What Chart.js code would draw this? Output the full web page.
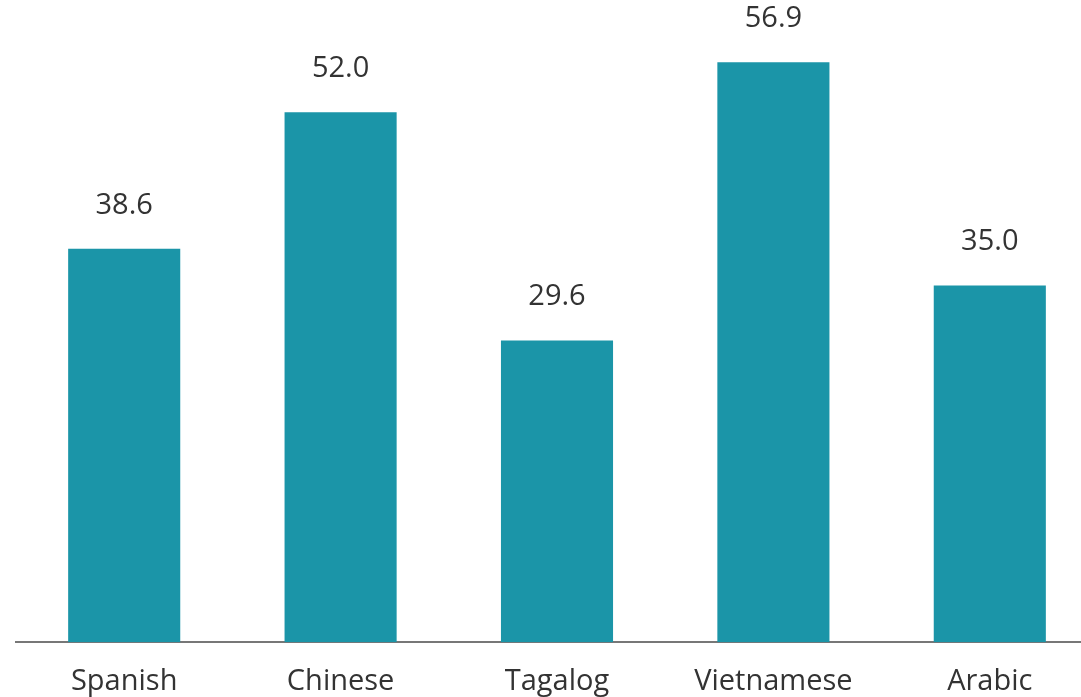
<!DOCTYPE html>
<html><head><meta charset="utf-8">
<script src="https://cdn.jsdelivr.net/npm/chart.js@4"></script>
<style>html,body{margin:0;padding:0;background:#fff;overflow:hidden;}canvas{display:block;}</style>
</head><body><canvas id="c" width="1114" height="721" style="width:1114px;height:721px"></canvas>
<script>
const categories = ["Spanish", "Chinese", "Tagalog", "Vietnamese", "Arabic"];
const values = [38.6, 52.0, 29.6, 56.9, 35.0];

const valueLabels = {
  id: 'valueLabels',
  afterDatasetsDraw(chart) {
    const ctx = chart.ctx;
    const meta = chart.getDatasetMeta(0);
    ctx.save();
    ctx.font = '29px "Open Sans", sans-serif';
    ctx.fillStyle = '#333333';
    ctx.textAlign = 'center';
    ctx.textBaseline = 'alphabetic';
    meta.data.forEach((bar, i) => {
      ctx.fillText(values[i].toFixed(1), bar.x, bar.y - 35);
    });
    ctx.restore();
  }
};

new Chart(document.getElementById('c'), {
  type: 'bar',
  data: { labels: categories, datasets: [{ data: values, backgroundColor: '#1b95a8', categoryPercentage: 1, barPercentage: 0.518 }] },
  options: {
    responsive: false, maintainAspectRatio: false, animation: false, devicePixelRatio: 1,
    layout: { padding: { left: 16, right: 16, top: 0, bottom: 0 } },
    plugins: { legend: { display: false }, tooltip: { enabled: false } },
    scales: {
      x: {
        grid: { display: false, drawTicks: false },
        border: { display: true, color: '#777777', width: 2 },
        ticks: { color: '#333333', font: { family: '"Open Sans", sans-serif', size: 29 }, padding: 22 }
      },
      y: { display: false, min: 0, max: 63 }
    }
  },
  plugins: [valueLabels]
});
</script></body></html>
